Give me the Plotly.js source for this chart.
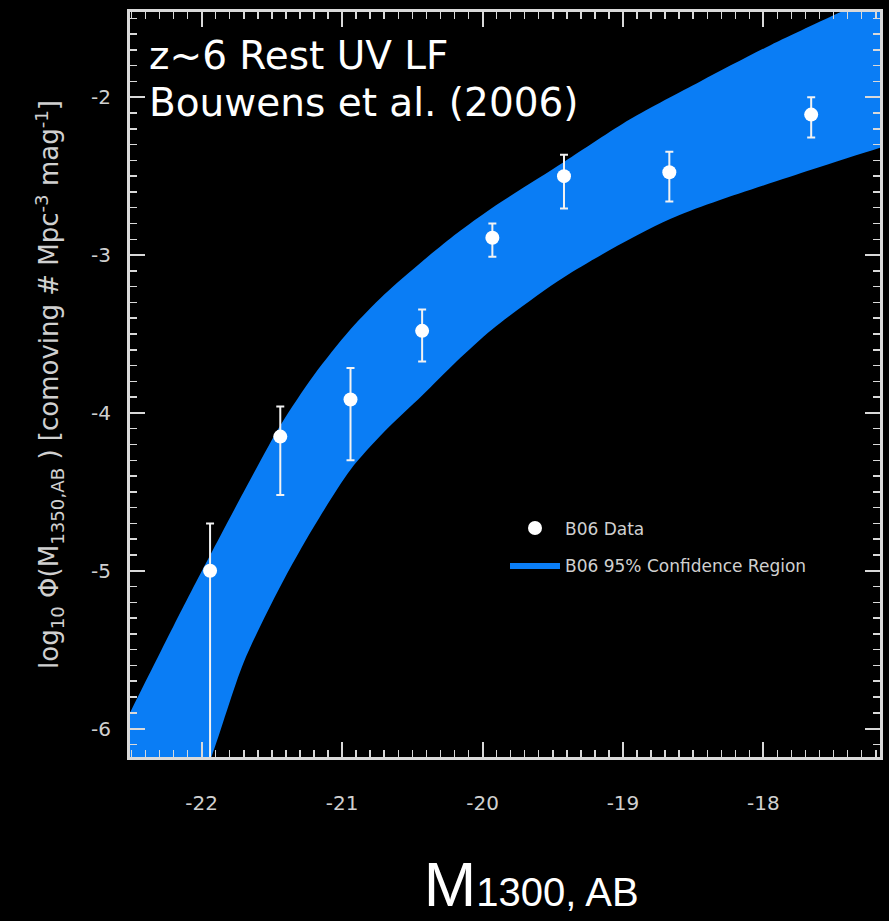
<!DOCTYPE html>
<html>
<head>
<meta charset="utf-8">
<script src="https://cdn.plot.ly/plotly-3.0.1.min.js"></script>
<style>
  html, body { margin: 0; padding: 0; background: #000; }
  #chart { width: 889px; height: 921px; }
</style>
</head>
<body>
<div id="chart"></div>
<script>
// ---- Data ----
// B06 stepwise luminosity function points
const magnitudes = [-21.94, -21.44, -20.94, -20.43, -19.93, -19.42, -18.67, -17.66];
const logPhi     = [-5.00, -4.15, -3.915, -3.48, -2.89, -2.50, -2.475, -2.11];
const errTop     = [-4.70, -3.96, -3.715, -3.345, -2.80, -2.365, -2.345, -2.00];
const errBottom  = [-6.80, -4.52, -4.30, -3.675, -3.01, -2.705, -2.66, -2.255];

// B06 95% confidence region (upper and lower edges)
const bandUpperX = [-22.70, -22.51, -22.20, -21.95, -21.70, -21.44, -21.20, -20.94, -20.70, -20.43, -20.18, -19.93, -19.42, -18.95, -18.45, -17.95, -17.45, -17.10, -16.90];
const bandUpperY = [-6.24, -5.90, -5.35, -4.92, -4.50, -4.08, -3.76, -3.47, -3.25, -3.04, -2.86, -2.70, -2.41, -2.14, -1.90, -1.67, -1.46, -1.32, -1.24];
const bandLowerX = [-22.10, -21.93, -21.70, -21.44, -21.20, -20.94, -20.70, -20.43, -20.18, -19.93, -19.42, -18.66, -17.66, -17.10, -16.90];
const bandLowerY = [-6.55, -6.18, -5.58, -5.10, -4.72, -4.36, -4.12, -3.89, -3.67, -3.47, -3.14, -2.77, -2.46, -2.30, -2.24];

// Tick labels
const xTickVals = [-22, -21, -20, -19, -18];
const xTickText = ['-22', '-21', '-20', '-19', '-18'];
const yTickVals = [-6, -5, -4, -3, -2];
const yTickText = ['-6', '-5', '-4', '-3', '-2'];

// ---- Build traces ----
const polyX = bandUpperX.concat(bandLowerX.slice().reverse());
const polyY = bandUpperY.concat(bandLowerY.slice().reverse());

const errPlus  = logPhi.map((v, i) => errTop[i] - v);
const errMinus = logPhi.map((v, i) => v - errBottom[i]);

// map Plotly's default labels (with U+2212 minus) to the reference's labels
function aliases(vals, texts) {
  const m = {};
  vals.forEach((v, i) => { m[(v < 0 ? '\u2212' : '') + Math.abs(v)] = texts[i]; });
  return m;
}

const XRANGE = [-22.51, -17.17];
const YRANGE = [-6.18, -1.46];

const FONT = 'Liberation Sans, Arial, Helvetica, sans-serif';
const WIDE = 'DejaVu Sans, Verdana, sans-serif';
const AXC = '#d9d9d9';
const TXC = '#d0d0d0';
const BLUE = 'rgb(10,125,245)';

const band = {
  x: polyX, y: polyY,
  type: 'scatter', mode: 'lines',
  fill: 'toself', fillcolor: BLUE,
  line: { width: 0, color: BLUE, shape: 'spline', smoothing: 0.8 },
  name: 'B06 95% Confidence Region',
  legendgroup: 'b', legendrank: 2,
  hoverinfo: 'skip'
};

const pts = {
  x: magnitudes, y: logPhi,
  type: 'scatter', mode: 'markers',
  marker: { color: '#ffffff', size: 14 },
  error_y: {
    type: 'data', symmetric: false,
    array: errPlus, arrayminus: errMinus,
    color: '#f2f2f2', thickness: 2, width: 4
  },
  name: 'B06 Data',
  legendgroup: 'a', legendrank: 1
};

function axisBase() {
  return {
    showgrid: false, zeroline: false,
    showline: true, linecolor: AXC, linewidth: 3, mirror: 'allticks',
    ticks: 'inside', ticklen: 15, tickwidth: 2, tickcolor: AXC,
    tickmode: 'linear', dtick: 1,
    tickfont: { family: WIDE, size: 20, color: TXC },
    minor: { ticks: 'inside', ticklen: 7, tickwidth: 1.5, tickcolor: AXC, dtick: 0.1 }
  };
}

const layout = {
  width: 889, height: 921,
  paper_bgcolor: '#000000', plot_bgcolor: '#000000',
  margin: { l: 130, r: 9, t: 12, b: 164 },
  font: { family: FONT, color: TXC },
  showlegend: true,
  legend: {
    x: 0.50, y: 0.331, xanchor: 'left', yanchor: 'top',
    bgcolor: 'rgba(0,0,0,0)',
    font: { family: WIDE, size: 17, color: TXC },
    traceorder: 'grouped', tracegroupgap: 12,
    itemwidth: 50
  },
  xaxis: Object.assign(axisBase(), {
    range: XRANGE,
    tick0: xTickVals[0],
    labelalias: aliases(xTickVals, xTickText),
    ticklabelstandoff: 26,
    title: {
      text: '&nbsp;&nbsp;&nbsp;M<span style="font-size:40px">1300, AB</span>',
      font: { family: FONT, size: 63, color: '#ffffff' },
      standoff: 48
    }
  }),
  yaxis: Object.assign(axisBase(), {
    range: YRANGE,
    tick0: yTickVals[0],
    labelalias: aliases(yTickVals, yTickText),
    ticklabelstandoff: 12,
    title: {
      text: 'log<sub>10</sub> Φ(M<sub>1350,AB</sub> ) [comoving # Mpc<sup>-3</sup> mag<sup>-1</sup>]',
      font: { family: WIDE, size: 26, color: TXC },
      standoff: 25
    }
  }),
  annotations: [
    {
      xref: 'paper', yref: 'paper',
      x: 0.022, y: 0.941, xanchor: 'left', yanchor: 'middle',
      align: 'left', showarrow: false,
      text: 'z~6 Rest UV LF',
      font: { family: WIDE, size: 39, color: '#ffffff' }
    },
    {
      xref: 'paper', yref: 'paper',
      x: 0.022, y: 0.878, xanchor: 'left', yanchor: 'middle',
      align: 'left', showarrow: false,
      text: 'Bouwens et al. (2006)',
      font: { family: WIDE, size: 39, color: '#ffffff' }
    }
  ]
};

Plotly.newPlot('chart', [band, pts], layout, { displayModeBar: false, staticPlot: true });
</script>
</body>
</html>
